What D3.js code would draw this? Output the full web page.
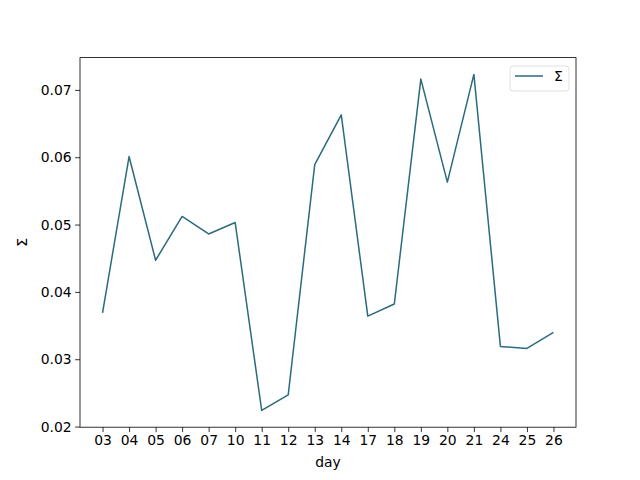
<!DOCTYPE html>
<html>
<head>
<meta charset="utf-8">
<script src="https://cdn.jsdelivr.net/npm/d3@7"></script>
<style>
  body { margin: 0; background: #fff; }
  svg { display: block; }
  text { font-family: "DejaVu Sans", sans-serif; fill: #000; }
</style>
</head>
<body>
<svg id="chart" width="640" height="480"></svg>
<script>
// data
const days = ['03', '04', '05', '06', '07', '10', '11', '12', '13', '14', '17', '18', '19', '20', '21', '24', '25', '26'];
const sigma = [0.0369, 0.0601, 0.0447, 0.0512, 0.0486, 0.0503, 0.0224, 0.0247, 0.0589, 0.0663,
               0.0364, 0.0382, 0.0716, 0.0563, 0.0723, 0.0319, 0.0316, 0.0340];
const yTicks = [0.02, 0.03, 0.04, 0.05, 0.06, 0.07];
const seriesName = 'Σ';

const svg = d3.select('#chart');
const margin = { left: 80, right: 64, top: 57.6, bottom: 52.8 };
const width = 640 - margin.left - margin.right;
const height = 480 - margin.top - margin.bottom;
const lineColor = '#2b6b7c';

// matplotlib-style 5% padding
const n = days.length;
const x = d3.scaleLinear()
    .domain([-0.05 * (n - 1), (n - 1) * 1.05])
    .range([margin.left, margin.left + width]);
const yMin = d3.min(sigma), yMax = d3.max(sigma);
const pad = (yMax - yMin) * 0.05;
const y = d3.scaleLinear()
    .domain([yMin - pad, yMax + pad])
    .range([margin.top + height, margin.top]);

const g = svg.append('g');

// x axis
const xAxis = g.append('g')
    .attr('transform', `translate(0,${margin.top + height})`)
    .call(d3.axisBottom(x)
        .tickValues(d3.range(n))
        .tickFormat(i => days[i])
        .tickSize(4.9)
        .tickPadding(3.5));
xAxis.select('.domain').remove();
xAxis.selectAll('text').style('font-size', '13.9px').attr('font-family', 'DejaVu Sans');
xAxis.selectAll('line').attr('stroke', '#000').attr('stroke-width', 0.8);

// y axis
const yAxis = g.append('g')
    .attr('transform', `translate(${margin.left},0)`)
    .call(d3.axisLeft(y)
        .tickValues(yTicks)
        .tickFormat(d3.format('.2f'))
        .tickSize(4.9)
        .tickPadding(3.5));
yAxis.select('.domain').remove();
yAxis.selectAll('text').style('font-size', '13.9px').attr('font-family', 'DejaVu Sans');
yAxis.selectAll('line').attr('stroke', '#000').attr('stroke-width', 0.8);

// line
const line = d3.line()
    .x((d, i) => x(i))
    .y(d => y(d));
g.append('path')
    .datum(sigma)
    .attr('d', line)
    .attr('fill', 'none')
    .attr('stroke', lineColor)
    .attr('stroke-width', 1.5)
    .attr('stroke-linejoin', 'round');

// frame
g.append('rect')
    .attr('x', margin.left)
    .attr('y', margin.top)
    .attr('width', width)
    .attr('height', height)
    .attr('fill', 'none')
    .attr('stroke', '#000')
    .attr('stroke-width', 0.8);

// axis labels
svg.append('text')
    .attr('x', margin.left + width / 2)
    .attr('y', 467)
    .attr('text-anchor', 'middle')
    .style('font-size', '13.9px')
    .text('day');
svg.append('text')
    .attr('transform', `translate(27,${margin.top + height / 2}) rotate(-90)`)
    .attr('text-anchor', 'middle')
    .style('font-size', '13.9px')
    .text(seriesName);

// legend
const lg = svg.append('g').attr('transform', 'translate(510,66)');
lg.append('rect')
    .attr('width', 59)
    .attr('height', 25)
    .attr('rx', 3)
    .attr('fill', '#fff')
    .attr('fill-opacity', 0.8)
    .attr('stroke', '#d9d9d9')
    .attr('stroke-width', 0.8);
lg.append('line')
    .attr('x1', 5).attr('x2', 33)
    .attr('y1', 10).attr('y2', 10)
    .attr('stroke', lineColor)
    .attr('stroke-width', 1.5);
lg.append('text')
    .attr('x', 44)
    .attr('y', 15)
    .style('font-size', '13.9px')
    .text(seriesName);
</script>
</body>
</html>
